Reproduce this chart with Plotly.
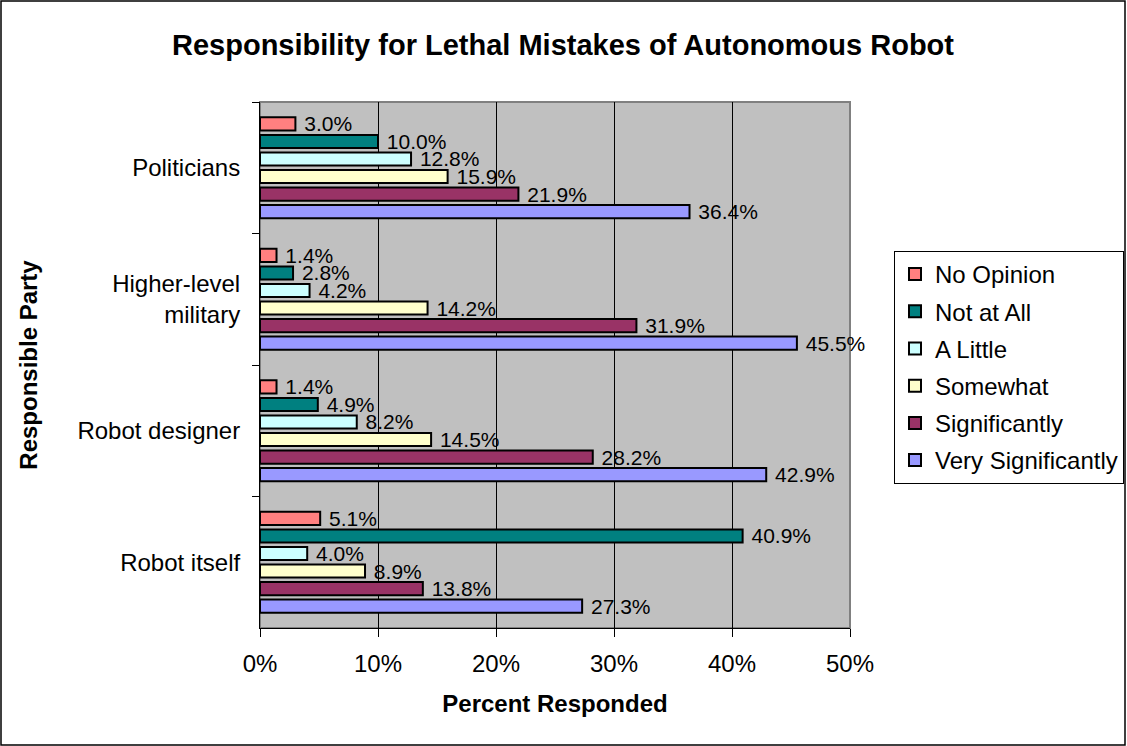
import plotly.graph_objects as go

# ------------------------------------------------------------------
# Data (percent responded)
# ------------------------------------------------------------------
PARTIES = ["Politicians", "Higher-level<br>military", "Robot designer", "Robot itself"]
SERIES = ["No Opinion", "Not at All", "A Little", "Somewhat", "Significantly", "Very Significantly"]

NO_OPINION = [3.0, 1.4, 1.4, 5.1]
NOT_AT_ALL = [10.0, 2.8, 4.9, 40.9]
A_LITTLE = [12.8, 4.2, 8.2, 4.0]
SOMEWHAT = [15.9, 14.2, 14.5, 8.9]
SIGNIFICANTLY = [21.9, 31.9, 28.2, 13.8]
VERY_SIGNIFICANTLY = [36.4, 45.5, 42.9, 27.3]

X_TICKS = [0, 10, 20, 30, 40, 50]
X_TICK_LABELS = ["0%", "10%", "20%", "30%", "40%", "50%"]

VALUES = [NO_OPINION, NOT_AT_ALL, A_LITTLE, SOMEWHAT, SIGNIFICANTLY, VERY_SIGNIFICANTLY]
COLORS = ["#FF8080", "#008080", "#CCFFFF", "#FFFFCC", "#993366", "#9999FF"]

# ------------------------------------------------------------------
# Layout constants
# ------------------------------------------------------------------
W, H = 1127, 746
M_L, M_R, M_T, M_B = 260, 277, 102, 118
FONT = "Arial, Liberation Sans, sans-serif"
PW, PH = W - M_L - M_R, H - M_T - M_B

fig = go.Figure()
for name, vals, col in zip(SERIES, VALUES, COLORS):
    fig.add_trace(go.Bar(
        y=PARTIES,
        x=vals,
        name=name,
        orientation="h",
        marker=dict(color=col, line=dict(color="black", width=2)),
        text=[f" {v:.1f}%" for v in vals],
        textposition="outside",
        textfont=dict(size=21, color="black", family=FONT),
        constraintext="none",
        cliponaxis=False,
        legendgroup=name,
    ))

fig.update_layout(
    width=W,
    height=H,
    margin=dict(l=M_L, r=M_R, t=M_T, b=M_B, autoexpand=False),
    paper_bgcolor="white",
    plot_bgcolor="#C0C0C0",
    barmode="group",
    bargap=0.2,
    bargroupgap=0.25,
    font=dict(family=FONT, size=24, color="black"),
    title=dict(
        text="<b>Responsibility for Lethal Mistakes of Autonomous Robot</b>",
        x=(563 - M_L) / PW, xref="paper", xanchor="center",
        y=1 - 45 / H, yanchor="middle",
        font=dict(size=29, family=FONT),
    ),
    legend=dict(
        x=(894 - M_L) / PW,
        y=(H - M_B - 251) / PH,
        xanchor="left", yanchor="top",
        bordercolor="black", borderwidth=1,
        font=dict(size=24, family=FONT),
        traceorder="grouped",
        tracegroupgap=3,
        itemwidth=30,
    ),
    showlegend=True,
)

fig.update_xaxes(
    range=[0, 50],
    tickvals=X_TICKS,
    ticktext=X_TICK_LABELS,
    showgrid=True, gridcolor="black", gridwidth=1,
    zeroline=False,
    showline=True, linecolor="black", linewidth=1,
    ticks="outside", ticklen=8, tickcolor="black",
    tickfont=dict(size=24),
    ticklabelstandoff=6,
    automargin=False,
    title=dict(text="<b>Percent Responded</b>", font=dict(size=24), standoff=19),
)

fig.update_yaxes(
    autorange="reversed",
    showgrid=False,
    showline=True, linecolor="black", linewidth=1,
    ticks="outside", ticklen=7, tickcolor="black",
    tickson="boundaries",
    tickfont=dict(size=24),
    ticklabelstandoff=14,
    automargin=False,
    title=dict(text="<b>Responsible Party</b>", font=dict(size=24), standoff=33),
)

# Grey plot-area border and the black outer chart border
fig.add_shape(type="rect", xref="paper", yref="paper", x0=0, y0=0, x1=1, y1=1,
              line=dict(color="#808080", width=2), layer="below")
fig.add_shape(type="rect", xref="paper", yref="paper",
              x0=(1 - M_L) / PW, x1=(W - 2 - M_L) / PW,
              y0=-(M_B - 1) / PH, y1=(H - M_B - 1) / PH,
              line=dict(color="black", width=1.5), layer="below")

fig.write_html("out.html", config={"displayModeBar": False},
               post_script="document.body.style.margin='0';")
